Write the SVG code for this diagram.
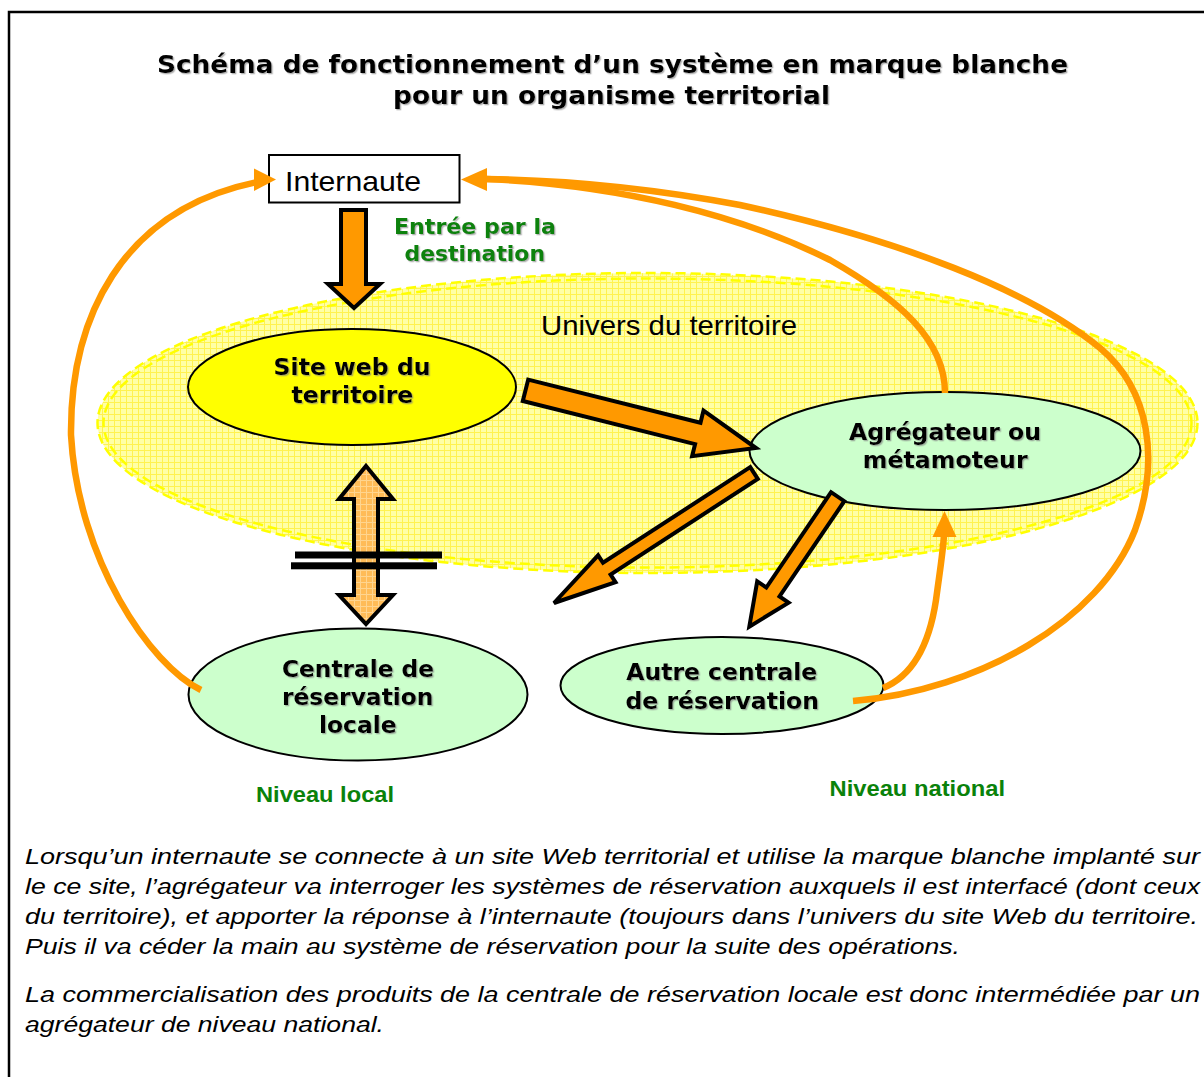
<svg xmlns="http://www.w3.org/2000/svg" width="1204" height="1077" viewBox="0 0 1204 1077">
<defs>
<style>
.title{font-family:"DejaVu Sans",Verdana,sans-serif;font-weight:bold;font-size:24px;fill:#000}
.lbl{font-family:"DejaVu Sans",Verdana,sans-serif;font-weight:bold;font-size:23px;fill:#000}
.grn{font-family:"DejaVu Sans",Verdana,sans-serif;font-weight:bold;font-size:21px;fill:#0A820A}
.lvl{font-family:"Liberation Sans",Arial,sans-serif;font-weight:bold;font-size:22px;fill:#0A820A}
.plain{font-family:"Liberation Sans",Arial,sans-serif;font-size:28px;fill:#000}
.body{font-family:"Liberation Sans",Arial,sans-serif;font-style:italic;font-size:22px;fill:#000}
.node{stroke:#000;stroke-width:2}
.fat{fill:#FF9900;stroke:#000;stroke-width:4;stroke-linejoin:miter}
.curve{fill:none;stroke:#FF9900;stroke-width:6.5}
.head{fill:#FF9900}
.dash{fill:none;stroke:#FFFF00;stroke-width:2.5;stroke-dasharray:10 5}
</style>
<pattern id="yel" width="6" height="6" patternUnits="userSpaceOnUse">
<rect width="6" height="6" fill="#FFFFA6"/>
<path d="M0 0.5H6M0.5 0V6" stroke="#FFF250" stroke-width="1"/>
</pattern>
<pattern id="org" width="6" height="6" patternUnits="userSpaceOnUse">
<rect width="6" height="6" fill="#FFBC58"/>
<path d="M0 0.5H6M0.5 0V6" stroke="#FFD590" stroke-width="1"/>
</pattern>
<filter id="sh" x="-5%" y="-20%" width="110%" height="140%">
<feDropShadow dx="1.3" dy="1.3" stdDeviation="0.5" flood-color="#808080" flood-opacity="0.6"/>
</filter>
</defs>
<rect width="1204" height="1077" fill="#fff"/>
<path d="M9 1077V12H1204" fill="none" stroke="#000" stroke-width="2.5"/>

<g id="title">
<text class="title" filter="url(#sh)" x="157" y="73" textLength="911" lengthAdjust="spacingAndGlyphs">Schéma de fonctionnement d’un système en marque blanche</text>
<text class="title" filter="url(#sh)" x="393" y="104" textLength="437" lengthAdjust="spacingAndGlyphs">pour un organisme territorial</text>
</g>

<g id="univers">
<ellipse cx="647.5" cy="423" rx="550" ry="150" fill="url(#yel)"/>
<ellipse class="dash" cx="647.5" cy="423" rx="550" ry="150"/>
<ellipse class="dash" cx="647.5" cy="423" rx="544" ry="144.5"/>
<text class="plain" x="541" y="335" textLength="256" lengthAdjust="spacingAndGlyphs">Univers du territoire</text>
</g>

<g id="internaute">
<rect x="269" y="155" width="190.5" height="47.5" fill="#fff" stroke="#000" stroke-width="2"/>
<text class="plain" x="285" y="191" textLength="136" lengthAdjust="spacingAndGlyphs">Internaute</text>
</g>

<g id="site-web">
<ellipse class="node" cx="352" cy="387" rx="164" ry="58" fill="#FFFF00"/>
<text class="lbl" filter="url(#sh)" x="273.6" y="375" textLength="157" lengthAdjust="spacingAndGlyphs">Site web du</text>
<text class="lbl" filter="url(#sh)" x="291.6" y="403" textLength="121.7" lengthAdjust="spacingAndGlyphs">territoire</text>
</g>

<g id="agregateur">
<ellipse class="node" cx="945" cy="451" rx="195.5" ry="59" fill="#CCFFCC"/>
<text class="lbl" filter="url(#sh)" x="849" y="440" textLength="192" lengthAdjust="spacingAndGlyphs">Agrégateur ou</text>
<text class="lbl" filter="url(#sh)" x="862.8" y="468" textLength="164.8" lengthAdjust="spacingAndGlyphs">métamoteur</text>
</g>

<g id="centrale-locale">
<ellipse class="node" cx="358" cy="694.5" rx="169.5" ry="66" fill="#CCFFCC"/>
<text class="lbl" filter="url(#sh)" x="282" y="677" textLength="152" lengthAdjust="spacingAndGlyphs">Centrale de</text>
<text class="lbl" filter="url(#sh)" x="282" y="705" textLength="151.5" lengthAdjust="spacingAndGlyphs">réservation</text>
<text class="lbl" filter="url(#sh)" x="319" y="733" textLength="77.7" lengthAdjust="spacingAndGlyphs">locale</text>
</g>

<g id="autre-centrale">
<ellipse class="node" cx="722" cy="685.5" rx="161.5" ry="48.5" fill="#CCFFCC"/>
<text class="lbl" filter="url(#sh)" x="626.3" y="680" textLength="191" lengthAdjust="spacingAndGlyphs">Autre centrale</text>
<text class="lbl" filter="url(#sh)" x="625.4" y="708.5" textLength="193.6" lengthAdjust="spacingAndGlyphs">de réservation</text>
</g>

<g id="connectors">
<polygon class="fat" points="341,210 366,210 366,284 380,284 354,308 328,284 341,284"/>
<polygon class="fat" points="528.2,379.6 700.5,422.7 703.5,410.6 756,448 692.1,456.2 695.1,444.1 522.8,401"/>
<polygon class="fat" points="750.2,467.1 603,562.8 598.1,555.3 554,603 615.5,582.1 610.6,574.6 757.8,478.9"/>
<polygon class="fat" points="831.1,492.2 766.3,587.5 757.2,581.3 749.3,626.7 788.6,602.7 779.5,596.5 844.3,501.2"/>
<polygon points="366,466 393,499 378,499 378,595 393,595 366,624 339,595 354,595 354,499 339,499" fill="url(#org)" stroke="#000" stroke-width="4"/>
<rect x="295" y="551.5" width="147" height="7" fill="#000"/>
<rect x="291" y="562.3" width="146" height="7" fill="#000"/>
<path class="curve" d="M201 690 C150 665 78 560 71 435 C70 320 120 210 257 182"/>
<polygon class="head" points="276,179.5 254,168.5 254,191"/>
<path class="curve" d="M945 393 C945 340 900 300 830 260 C740 215 620 185 486 179"/>
<path class="curve" d="M853 701 C980 690 1100 620 1135 530 C1160 460 1150 390 1100 348 C1030 290 900 240 740 205 C650 188 560 180 486 179"/>
<polygon class="head" points="461,179.5 487,168 487,191"/>
<path class="curve" d="M883 688 C915 675 930 640 936 600 C940 570 943 552 944 535"/>
<polygon class="head" points="944.5,511 932.5,537 956.5,537"/>
</g>

<g id="labels">
<text class="grn" filter="url(#sh)" x="394" y="234" textLength="162" lengthAdjust="spacingAndGlyphs">Entrée par la</text>
<text class="grn" filter="url(#sh)" x="404.5" y="261" textLength="140.5" lengthAdjust="spacingAndGlyphs">destination</text>
<text class="lvl" x="256" y="802" textLength="138" lengthAdjust="spacingAndGlyphs">Niveau local</text>
<text class="lvl" x="829.5" y="796" textLength="175.5" lengthAdjust="spacingAndGlyphs">Niveau national</text>
</g>

<g id="texte">
<text class="body" x="25" y="864" textLength="1175" lengthAdjust="spacingAndGlyphs">Lorsqu’un internaute se connecte à un site Web territorial et utilise la marque blanche implanté sur</text>
<text class="body" x="25" y="894" textLength="1175" lengthAdjust="spacingAndGlyphs">le ce site, l’agrégateur va interroger les systèmes de réservation auxquels il est interfacé (dont ceux</text>
<text class="body" x="25" y="924" textLength="1173" lengthAdjust="spacingAndGlyphs">du territoire), et apporter la réponse à l’internaute (toujours dans l’univers du site Web du territoire.</text>
<text class="body" x="25" y="954" textLength="935" lengthAdjust="spacingAndGlyphs">Puis il va céder la main au système de réservation pour la suite des opérations.</text>
<text class="body" x="25" y="1002" textLength="1175" lengthAdjust="spacingAndGlyphs">La commercialisation des produits de la centrale de réservation locale est donc intermédiée par un</text>
<text class="body" x="25" y="1032" textLength="359" lengthAdjust="spacingAndGlyphs">agrégateur de niveau national.</text>
</g>
</svg>
